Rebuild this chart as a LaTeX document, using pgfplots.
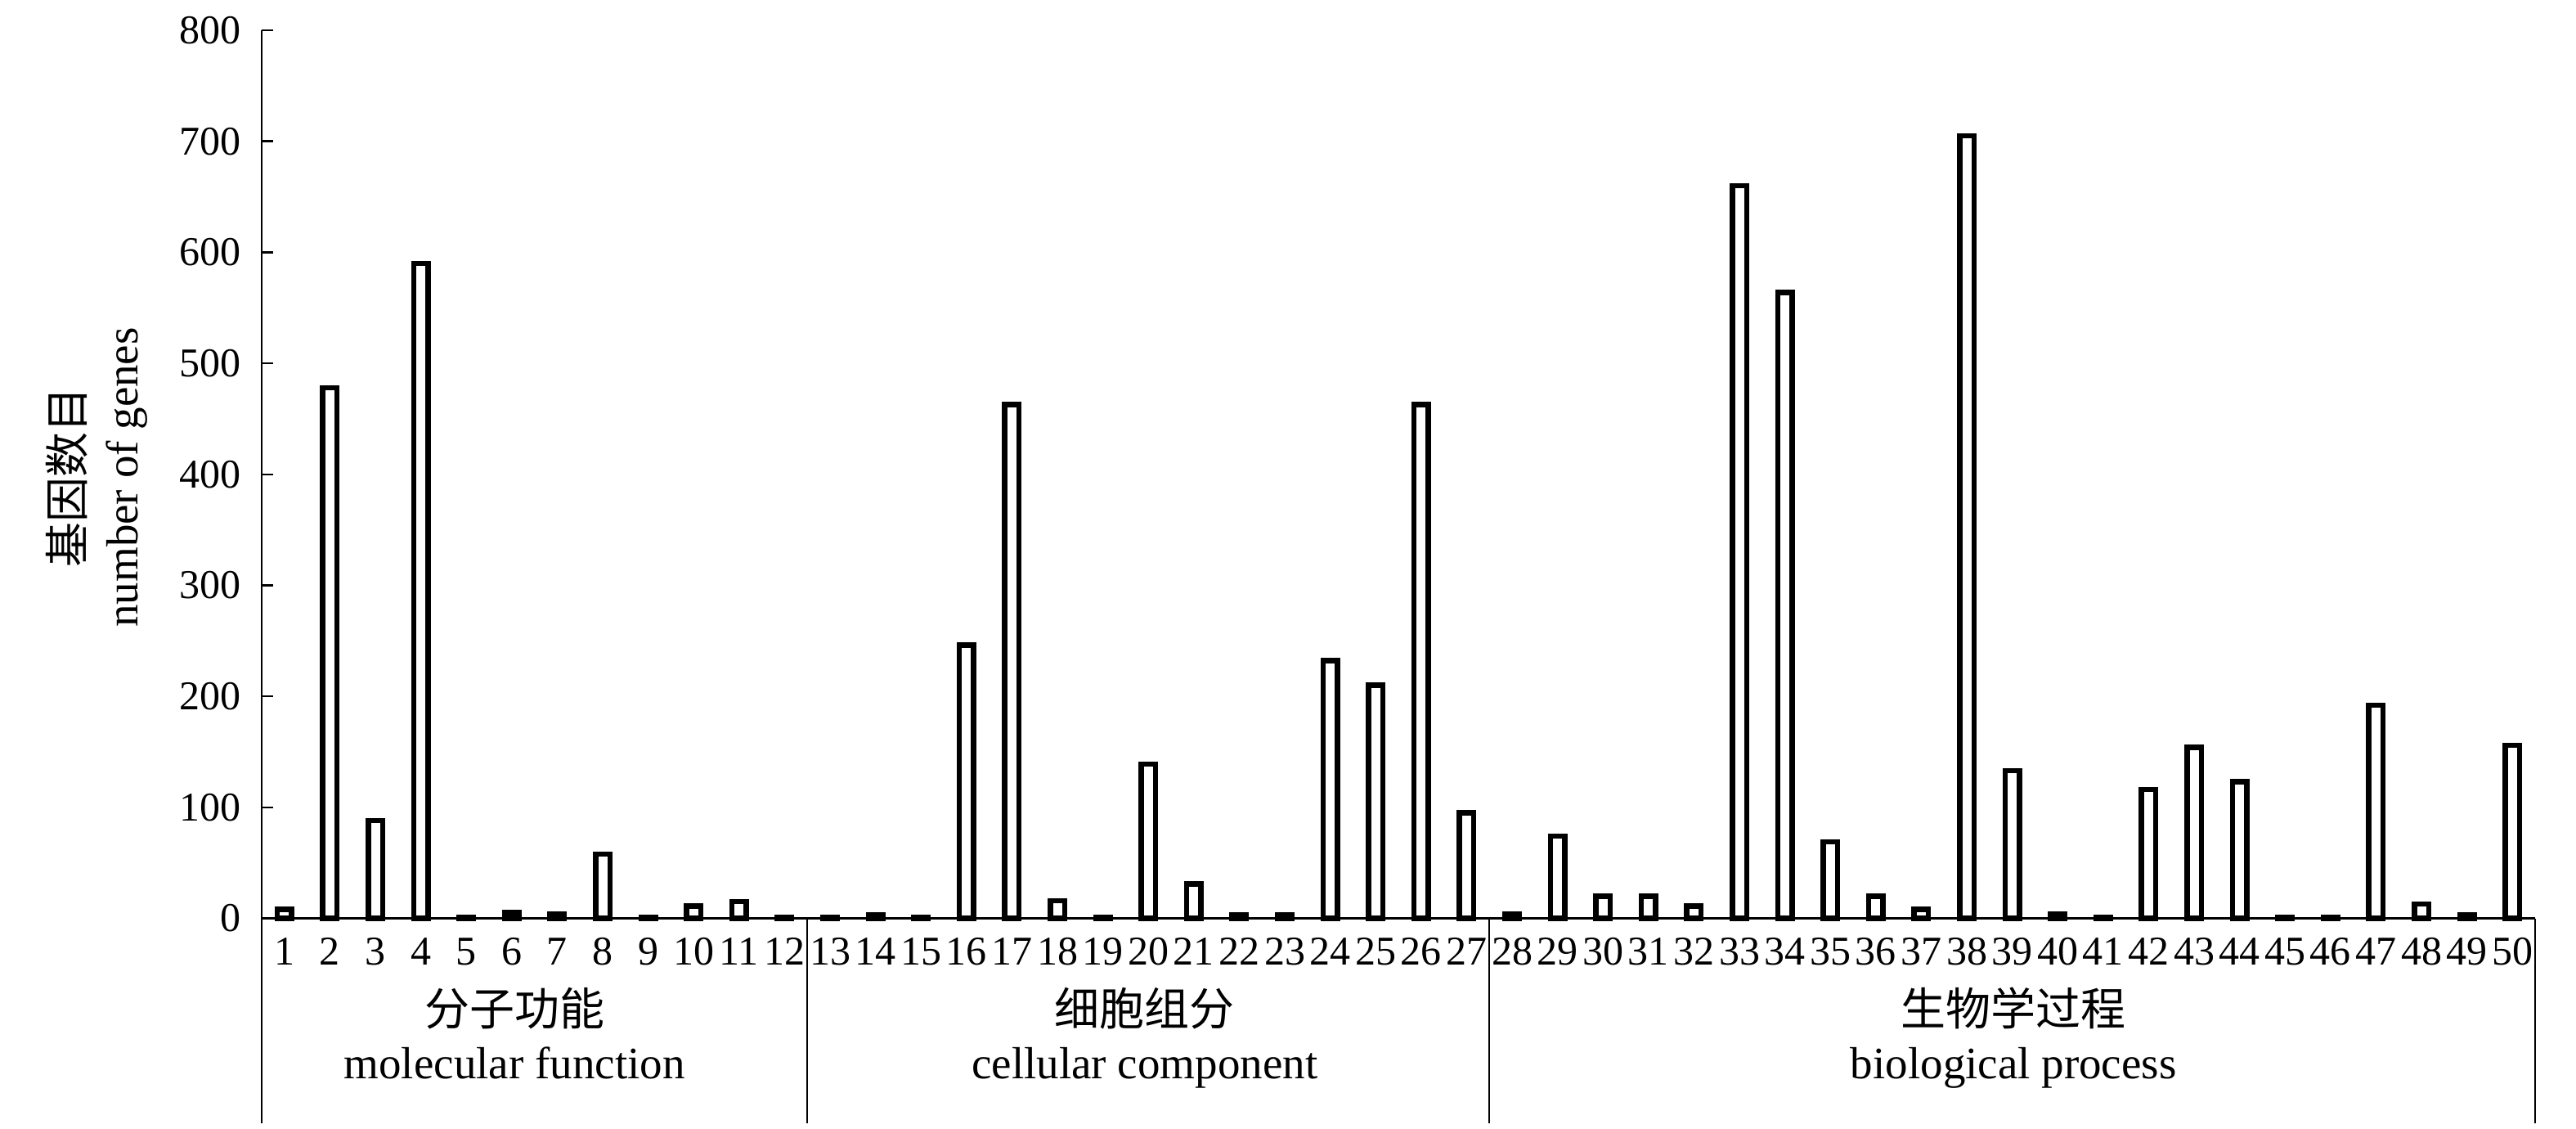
\documentclass[border=0pt]{standalone}
\usepackage{pgfplots}
\pgfplotsset{compat=1.18}
\usepackage{pgfplotstable}
\usepackage{fontspec}
\setmainfont{Liberation Serif}
\newfontfamily\cjk{Noto Sans CJK SC}

\pgfplotstableread{
x y
1 8
2 478
3 88
4 590
5 1
6 5
7 4
8 58
9 1
10 11
11 15
12 1
13 1
14 3
15 1
16 246
17 463
18 16
19 1
20 139
21 31
22 3
23 3
24 232
25 210
26 463
27 95
28 4
29 74
30 20
31 20
32 11
33 660
34 564
35 69
36 20
37 8
38 705
39 133
40 4
41 1
42 116
43 154
44 123
45 1
46 1
47 192
48 13
49 3
50 156
}\genedata

\begin{document}
\begin{tikzpicture}
\useasboundingbox (0,0) rectangle (630pt,276pt);
\begin{axis}[
  at={(64pt,51.5pt)}, anchor=south west,
  scale only axis, width=556pt, height=217.1pt,
  xmin=0.5, xmax=50.5, ymin=0, ymax=800,
  axis lines*=left,
  axis line style={line width=0.5pt,-},
  ytick={0,100,...,800},
  xtick={1,...,50},
  tick align=inside,
  major tick length=2.7pt,
  ytick style={line width=0.5pt,black},
  xtick style={draw=none},
  /pgf/number format/assume math mode=true,
  ticklabel style={font=\fontsize{10}{12}\selectfont},
  yticklabel style={xshift=-1.5pt},
  xticklabel style={anchor=base, yshift=-11.3pt},
  clip=false,
]
\addplot[ybar, bar width=3.5pt, draw=black, fill=white, line width=1.3pt] table[x=x,y=y] {\genedata};

\draw[line width=0.5pt] (axis cs:0.5,0) -- ++(0pt,-50pt);
\draw[line width=0.5pt] (axis cs:12.5,0) -- ++(0pt,-50pt);
\draw[line width=0.5pt] (axis cs:27.5,0) -- ++(0pt,-50pt);
\draw[line width=0.5pt] (axis cs:50.5,0) -- ++(0pt,-50pt);

\node[anchor=base, font=\cjk\fontsize{11}{13}\selectfont, inner sep=0pt] at ([yshift=-26.1pt]axis cs:6.06,0) {分子功能};
\node[anchor=base, font=\fontsize{11}{13}\selectfont, inner sep=0pt] at ([yshift=-39.2pt]axis cs:6.06,0) {molecular function};
\node[anchor=base, font=\cjk\fontsize{11}{13}\selectfont, inner sep=0pt] at ([yshift=-26.1pt]axis cs:19.92,0) {细胞组分};
\node[anchor=base, font=\fontsize{11}{13}\selectfont, inner sep=0pt] at ([yshift=-39.2pt]axis cs:19.92,0) {cellular component};
\node[anchor=base, font=\cjk\fontsize{11}{13}\selectfont, inner sep=0pt] at ([yshift=-26.1pt]axis cs:39.03,0) {生物学过程};
\node[anchor=base, font=\fontsize{11}{13}\selectfont, inner sep=0pt] at ([yshift=-39.2pt]axis cs:39.03,0) {biological process};
\end{axis}
\node[rotate=90, anchor=center, font=\cjk\fontsize{11}{13}\selectfont, inner sep=0pt] at (16.3pt,159.3pt) {基因数目};
\node[rotate=90, anchor=base, font=\fontsize{11}{13}\selectfont, inner sep=0pt] at (33.7pt,159.3pt) {number of genes};
\end{tikzpicture}
\end{document}
